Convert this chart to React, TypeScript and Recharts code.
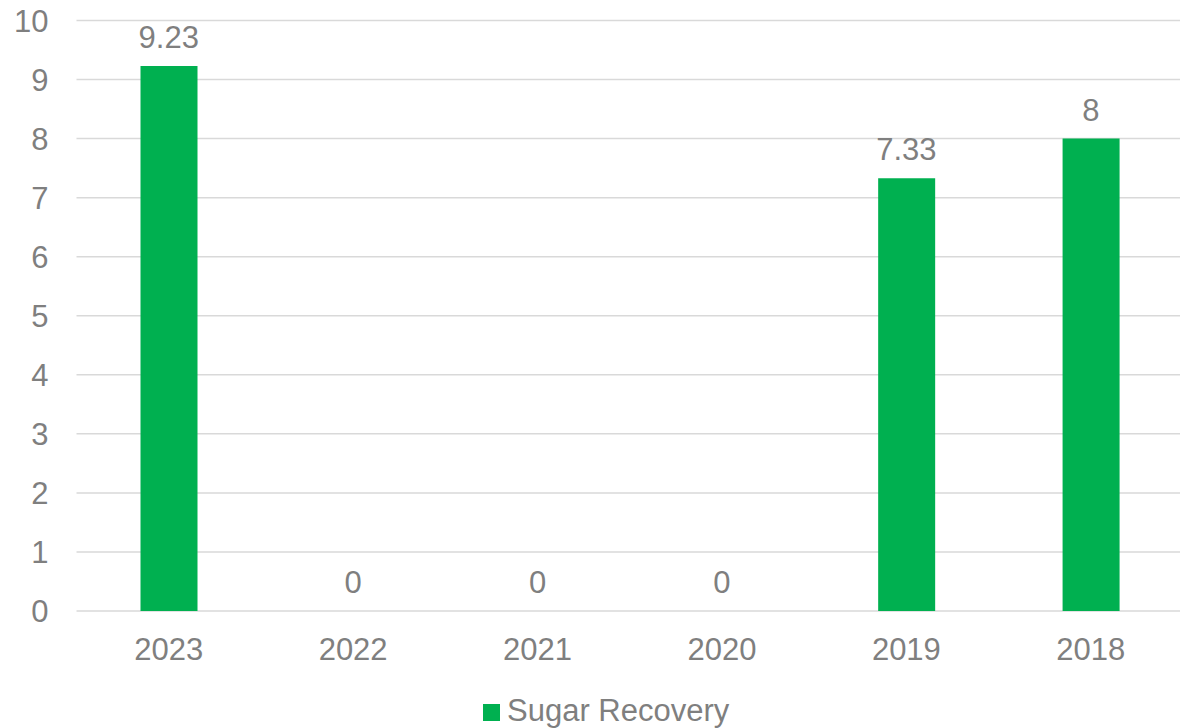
import React from 'react';
import { ComposedChart, Bar, Line, XAxis, YAxis, CartesianGrid, Legend, LabelList } from 'recharts';

const categories = ['2023', '2022', '2021', '2020', '2019', '2018'];
const sugarRecovery = [9.23, 0, 0, 0, 7.33, 8];
const yTicks = [0, 1, 2, 3, 4, 5, 6, 7, 8, 9, 10];

const data = categories.map((c, i) => ({ year: c, value: sugarRecovery[i] }));

const FONT = '"Liberation Sans", Arial, sans-serif';
const GREY = '#7f7f7f';
const GREEN = '#00B050';
const FS = 31;

const LegendContent = () => (
  <div style={{ height: 34, display: 'flex', justifyContent: 'flex-start', alignItems: 'center', paddingLeft: 483, fontFamily: FONT, fontSize: FS, color: GREY }}>
    <span style={{ display: 'inline-block', width: 17, height: 17, background: GREEN, marginRight: 7, marginTop: 2 }} />
    <span style={{ lineHeight: '34px' }}>Sugar Recovery</span>
  </div>
);

export default function App() {
  return (
    <div style={{ position: 'absolute', left: 0, top: 0, width: 1180, height: 728, overflow: 'hidden', background: '#fff' }}>
      <ComposedChart width={1183} height={728} data={data} margin={{ top: 20.5, right: 0, left: 0, bottom: 0 }}>
        <CartesianGrid horizontal vertical={false} stroke="#d9d9d9" strokeWidth={1.5} />
        <XAxis
          dataKey="year"
          axisLine={false}
          tickLine={false}
          tickMargin={21}
          height={83}
          tick={{ fill: GREY, fontSize: FS, fontFamily: FONT }}
        />
        <YAxis
          domain={[0, 10]}
          ticks={yTicks}
          axisLine={false}
          tickLine={false}
          tickMargin={22}
          width={76.5}
          interval={0}
          tick={{ fill: GREY, fontSize: FS, fontFamily: FONT }}
        />
        <Legend verticalAlign="bottom" content={<LegendContent />} />
        <Bar dataKey="value" name="Sugar Recovery" fill={GREEN} barSize={57} isAnimationActive={false} />
        <Line
          dataKey="value"
          stroke="none"
          dot={false}
          activeDot={false}
          legendType="none"
          isAnimationActive={false}
        >
          <LabelList dataKey="value" position="top" offset={18} fill={GREY} fontSize={FS} fontFamily={FONT} />
        </Line>
      </ComposedChart>
    </div>
  );
}
